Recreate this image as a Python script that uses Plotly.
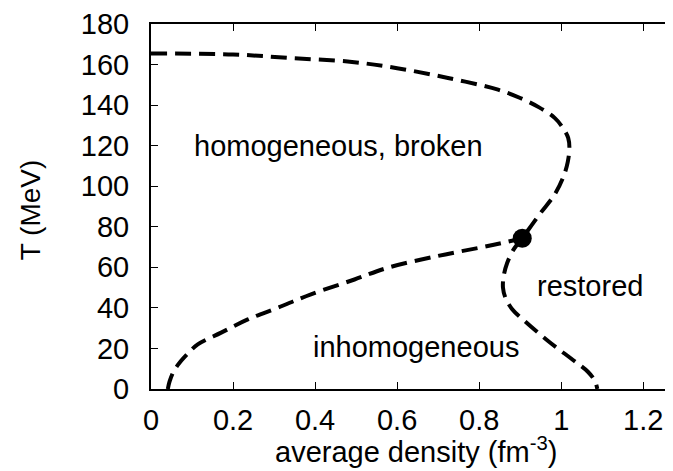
import plotly.graph_objects as go

# upper boundary (homogeneous broken -> restored), from rho=0 down to the critical point
upper_rho = [0.0, 0.2, 0.34, 0.49, 0.6, 0.724, 0.846, 0.9, 0.945, 0.984, 1.005, 1.017, 1.02, 1.016, 1.006, 0.984, 0.947, 0.905]
upper_T = [165.4, 165.0, 163.2, 161.3, 158.2, 153.4, 147.6, 143.5, 139.0, 133.7, 128.5, 123.8, 118.9, 112.0, 105.0, 95.9, 86.1, 74.3]

# inhomogeneous / homogeneous broken boundary
left_rho = [0.041, 0.045, 0.056, 0.073, 0.092, 0.114, 0.171, 0.236, 0.309, 0.39, 0.496, 0.577, 0.699, 0.821, 0.905]
left_T = [0.0, 3.5, 9.0, 13.8, 18.0, 22.0, 27.8, 34.3, 40.1, 46.7, 54.0, 59.8, 65.6, 70.5, 74.3]

# inhomogeneous / restored boundary
right_rho = [0.905, 0.883, 0.868, 0.86, 0.858, 0.864, 0.88, 0.911, 0.968, 1.032, 1.065, 1.082, 1.088]
right_T = [74.3, 68.5, 62.0, 56.0, 50.0, 45.0, 39.5, 33.5, 23.7, 13.8, 8.5, 4.0, 0.0]

# critical point
cp_rho = [0.905]
cp_T = [74.3]

FONT = "Liberation Sans, Arial, sans-serif"
FS = 29
dash_line = dict(color="black", width=4, dash="16px,8px", shape="spline", smoothing=1.0)

fig = go.Figure()
for xs, ys in [(upper_rho, upper_T), (left_rho, left_T), (right_rho, right_T)]:
    fig.add_trace(go.Scatter(x=xs, y=ys, mode="lines", line=dash_line,
                             showlegend=False, hoverinfo="skip"))

fig.add_trace(go.Scatter(x=cp_rho, y=cp_T, mode="markers",
                         marker=dict(color="black", size=19),
                         showlegend=False))

labels = [
    ("homogeneous, broken", 0.1, 120, "left"),
    ("restored", 1.07, 51, "center"),
    ("inhomogeneous", 0.645, 20.5, "center"),
]
for txt, x, y, anchor in labels:
    fig.add_annotation(x=x, y=y, text=txt, showarrow=False, xanchor=anchor,
                       yanchor="middle", font=dict(size=FS, color="black", family=FONT))

# axis titles as paper annotations so they stay inside the page
fig.add_annotation(x=0.5, y=-0.222, xref="paper", yref="paper", yanchor="bottom",
                   text="average density (fm<sup>-3</sup>)", showarrow=False,
                   font=dict(size=FS, color="black", family=FONT))
fig.add_annotation(x=-0.228, y=0.49, xref="paper", yref="paper",
                   xanchor="center", yanchor="middle", textangle=-90,
                   text="T (MeV)", showarrow=False,
                   font=dict(size=FS - 1, color="black", family=FONT))

fig.update_layout(
    width=673, height=471,
    margin=dict(l=143, r=0, t=16, b=90),
    plot_bgcolor="white", paper_bgcolor="white",
    font=dict(family=FONT, size=FS, color="black"),
)
fig.update_xaxes(
    range=[0, 1.292], tickvals=[0, 0.2, 0.4, 0.6, 0.8, 1.0, 1.2],
    ticktext=["0", "0.2", "0.4", "0.6", "0.8", "1", "1.2"],
    ticks="inside", ticklen=7, tickwidth=1, tickcolor="black",
    showline=True, linecolor="black", linewidth=2, mirror="ticks",
    showgrid=False, zeroline=False, ticklabelstandoff=4, automargin=False,
)
fig.update_yaxes(
    range=[0, 180], tickvals=list(range(0, 181, 20)),
    ticks="inside", ticklen=7, tickwidth=1, tickcolor="black",
    showline=True, linecolor="black", linewidth=2,
    showgrid=False, zeroline=False, ticklabelstandoff=14, automargin=False,
)

fig.write_html("out.html")
